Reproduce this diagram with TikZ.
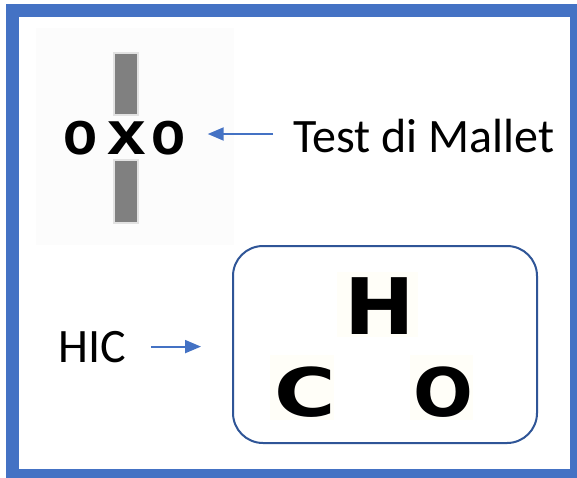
\documentclass[tikz,border=0pt]{standalone}
\usepackage{fontspec}
\setmainfont{Carlito}
\newfontfamily\heavyfont{DejaVu Sans}
\newfontfamily\arialfont{Liberation Sans}
\usetikzlibrary{arrows.meta}
\definecolor{frameblue}{HTML}{4472C4}
\definecolor{boxblue}{HTML}{2F5597}
\definecolor{bargray}{HTML}{808080}
\definecolor{halogray}{HTML}{E2E2E2}
\definecolor{paper}{HTML}{FCFCFC}
\definecolor{cream}{HTML}{FFFEF8}
\tikzset{
  label48/.style={inner sep=0pt, font=\fontsize{48}{48}\selectfont},
  optotype/.style={inner sep=0pt, font=\fontsize{#1}{#1}\heavyfont\bfseries},
  smallglyph/.style={inner sep=0pt, font=\fontsize{62}{62}\arialfont\bfseries},
  arr/.style={draw=frameblue, line width=2pt, -{Triangle[length=16pt,width=13pt]}},
  bar/.style={fill=bargray, draw=halogray, line width=1.5pt}
}
\begin{document}
\begin{tikzpicture}[x=1pt, y=-1pt]
  \useasboundingbox (0,0) rectangle (577,477);
  \fill[white] (0,0) rectangle (577,477);

  % scanned card with the "oxo" line
  \fill[paper] (36,28) rectangle (234,245);
  \fill[bar] (114,53) rectangle (138,115);
  \fill[bar] (114,160) rectangle (138,223);
  \node[smallglyph, xscale=0.9] (o1) at (81,138.5) {o};
  \node[smallglyph, xscale=1.12] (xx) at (126.5,138) {x};
  \node[smallglyph, xscale=0.9] (o2) at (168.5,138.5) {o};

  % label and arrow
  \node[label48, anchor=base west] (tdm) at (293,152) {Test di Mallet};
  \coordinate (m1) at (273,134);
  \draw[arr, shorten >=22pt] (m1) -- (m1 -| o2.east);

  % rounded box with H, C, O
  \node[draw=boxblue, line width=2pt, rounded corners=30pt, minimum width=304pt,
        minimum height=197pt, inner sep=0pt] (box) at (385,344.5) {};
  \fill[cream] (337,272) rectangle (418,337);
  \fill[cream] (270,355) rectangle (334,420);
  \fill[cream] (410,355) rectangle (473,420);
  \node[optotype=78, xscale=1.08] (hh) at (379.5,306.5) {H};
  \node[optotype=67, xscale=1.25] (cc) at (305,392) {C};
  \node[optotype=67, xscale=1.05] (oo) at (443.5,392) {O};

  \node[label48, anchor=base west] (hic) at (58,362) {HIC};
  \draw[arr] ([xshift=25pt]hic.east) -- ([xshift=-31pt]hic.east -| box.west);

  % outer frame
  \draw[frameblue, line width=13pt] (12.5,10.5) rectangle (576.5,475.5);
\end{tikzpicture}
\end{document}
